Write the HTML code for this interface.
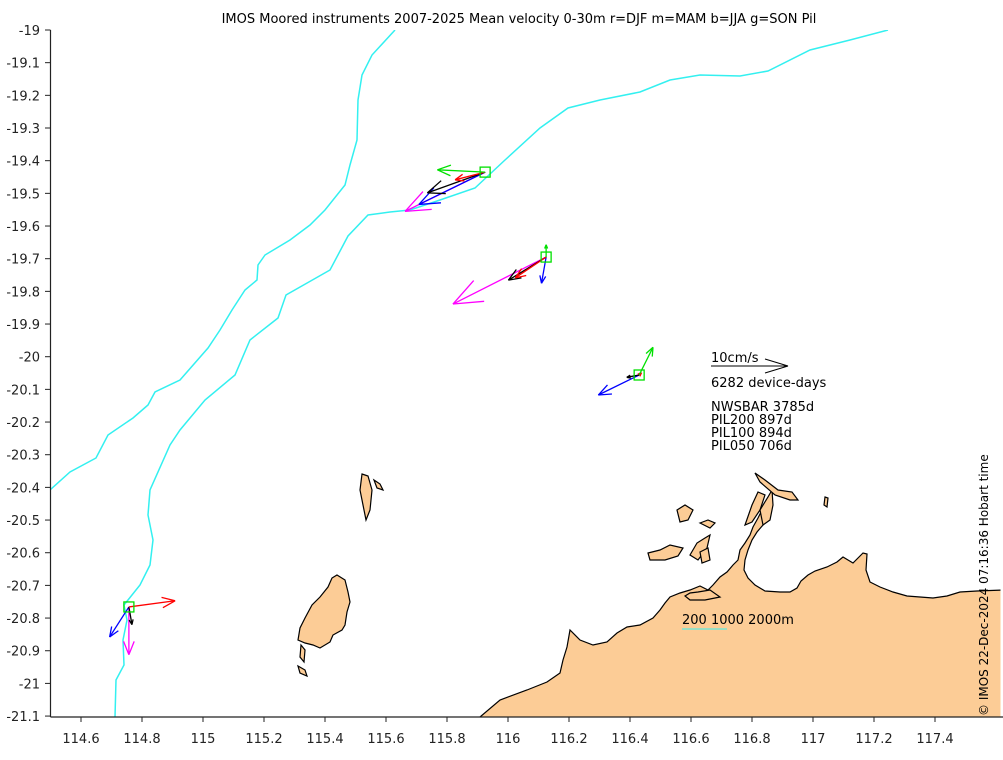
<!DOCTYPE html>
<html><head><meta charset="utf-8"><style>
body{margin:0;background:#fff;}
svg{display:block;font-family:"DejaVu Sans","Liberation Sans",sans-serif;}
</style></head><body>
<svg id="chart" width="1003" height="760" viewBox="0 0 1003 760">
<defs><clipPath id="pc"><rect x="50.5" y="30" width="950" height="687"/></clipPath></defs>
<text x="519" y="23" text-anchor="middle" font-size="13" fill="#000">IMOS Moored instruments 2007-2025 Mean velocity 0-30m r=DJF m=MAM b=JJA g=SON Pil</text>
<g clip-path="url(#pc)">
<g id="land" fill="#fccc96" stroke="#000" stroke-width="1.2"></g>
<polyline fill="none" stroke="#33f0f0" stroke-width="1.5" points="395,30 372,55 362,75 358,100 357,140 350,165 345,185 325,210 310,225 290,240 265,255 258,265 257,280 245,290 232,310 220,330 208,348 180,380 155,392 148,405 133,418 108,435 96,458 70,472 50,490"/>
<polyline fill="none" stroke="#33f0f0" stroke-width="1.5" points="115,717 116,680 124,665 123,640 127,620 124,605 140,585 150,565 153,540 148,515 150,490 170,445 180,430 205,400 235,375 250,340 278,318 286,295 330,270 348,236 368,215 390,212 410,210 440,200 475,188 505,160 540,128 568,108 600,100 640,92 670,80 700,75 740,76 768,71 810,50 850,40 888,30"/>
<g id="arrows"></g>
</g>
<line x1="50.5" y1="30" x2="50.5" y2="717" stroke="#222" stroke-width="1.2"/>
<line x1="50.5" y1="717" x2="1003" y2="717" stroke="#222" stroke-width="1.2"/>
<g id="ticks" font-size="13" fill="#222"></g>
<g font-size="13" fill="#000">
<line x1="711" y1="366" x2="788" y2="366" stroke="#000"/>
<line x1="788" y1="366" x2="765" y2="359" stroke="#000"/>
<line x1="788" y1="366" x2="765" y2="373" stroke="#000"/>
<text x="711" y="362">10cm/s</text>
<text x="711" y="387">6282 device-days</text>
<text x="711" y="411">NWSBAR 3785d</text>
<text x="711" y="424">PIL200 897d</text>
<text x="711" y="437">PIL100 894d</text>
<text x="711" y="450">PIL050 706d</text>
</g>
<g>
<text x="682" y="624" font-size="13" fill="#000">200 1000 2000m</text>
<line x1="682" y1="629" x2="727" y2="629" stroke="#33f0f0" stroke-width="1"/>
</g>
<text transform="translate(988,716) rotate(-90)" font-size="12" fill="#000">© IMOS 22-Dec-2024 07:16:36 Hobart time</text>
</svg>
<script>
const xTicks=[114.6,114.8,115,115.2,115.4,115.6,115.8,116,116.2,116.4,116.6,116.8,117,117.2,117.4];
const yTicks=[-19,-19.1,-19.2,-19.3,-19.4,-19.5,-19.6,-19.7,-19.8,-19.9,-20,-20.1,-20.2,-20.3,-20.4,-20.5,-20.6,-20.7,-20.8,-20.9,-21,-21.1];
const mooringLon=[115.925,116.125,116.43,114.757];
const mooringLat=[-19.435,-19.695,-20.056,-20.766];
const seasons=['son','djf','jja_black','jja','mam'];
const seasonColor=['#00e000','#ff0000','#000000','#0000ff','#ff00ff'];
const uSON=[-6.2,0,1.8,null];const vSON=[0.3,1.6,3.6,null];
const uDJF=[-3.9,-4.0,0.3,6.0];const vDJF=[-1.0,-2.7,0.3,0.8];
const uBLK=[-7.5,-4.9,-1.6,0.4];const vBLK=[-2.7,-3.0,-0.3,-2.3];
const uJJA=[-8.6,-0.6,-5.3,-2.5];const vJJA=[-4.2,-3.4,-2.6,-3.9];
const uMAM=[-10.4,-12.1,null,0];const vMAM=[-5.1,-6.1,null,-6.2];
const NS='http://www.w3.org/2000/svg';
const X=lon=>50.5+(lon-114.5)*305;
const Y=lat=>30+(-19-lat)*326.7;
const PXCM=7.7;
function mk(tag,attrs,parent){const e=document.createElementNS(NS,tag);for(const k in attrs)e.setAttribute(k,attrs[k]);parent.appendChild(e);return e;}
const tg=document.getElementById('ticks');
xTicks.forEach(t=>{const x=X(t);
 const l=mk('line',{x1:x,y1:717,x2:x,y2:722,stroke:'#222'},tg);
 
 
 const tx=mk('text',{x:x,y:743,'text-anchor':'middle'},tg);tx.textContent=String(t);
 
 });
yTicks.forEach(t=>{const y=Y(t);
 const l=mk('line',{x1:45,y1:y,x2:50.5,y2:y,stroke:'#222'},tg);
 
 
 const tx=mk('text',{x:40,y:y+5,'text-anchor':'end'},tg);tx.textContent=String(t);
 
 });
const land=document.getElementById('land');
const polys=[
 [[480,717],[500,700],[527,690],[547,682],[560,673],[563,660],[567,647],[570,630],[580,640],[593,645],[607,642],[617,633],[627,627],[640,625],[653,618],[660,610],[665,603],[670,597],[680,593],[690,590],[700,586],[708,590],[713,585],[720,577],[727,572],[733,565],[738,560],[740,550],[745,543],[750,535],[753,527],[758,518],[762,510],[767,502],[772,495],[771,505],[768,515],[763,525],[757,532],[752,540],[748,550],[745,560],[744,570],[748,578],[755,585],[765,591],[780,592],[790,592],[797,588],[801,581],[808,575],[815,571],[827,567],[837,562],[843,557],[848,560],[853,563],[860,556],[863,553],[867,554],[866,570],[870,582],[880,587],[893,592],[907,596],[920,597],[933,598],[947,596],[960,592],[977,591],[1003,590],[1003,720],[480,720]],
 [[337,575],[345,580],[348,592],[350,602],[347,612],[345,625],[342,630],[333,635],[330,642],[320,648],[313,645],[305,643],[298,640],[300,628],[305,618],[312,605],[320,597],[328,587],[332,578]],
 [[301,645],[305,650],[304,662],[300,657]],[[298,666],[305,670],[307,676],[300,673]],
 [[362,474],[368,476],[372,490],[370,510],[366,520],[363,505],[360,490]],[[374,480],[380,484],[383,490],[377,488]],
 [[648,553],[660,550],[670,545],[683,548],[678,556],[665,560],[650,560]],
 [[690,555],[697,543],[705,538],[710,535],[707,548],[698,560]],
 [[700,552],[708,548],[710,560],[702,563]],
 [[677,510],[685,505],[693,510],[688,520],[680,522]],
 [[700,523],[708,520],[715,523],[710,528]],
 [[745,525],[752,505],[758,492],[765,495],[760,510],[752,522]],
 [[760,510],[768,497],[772,490],[773,505],[770,520],[763,525]],
 [[755,473],[765,480],[778,490],[792,492],[798,500],[790,500],[775,495],[760,482]],
 [[825,497],[828,498],[827,507],[824,505]],
 [[685,596],[690,593],[698,592],[710,590],[720,597],[705,600],[690,600]]
];
polys.forEach(p=>{const e=mk('polygon',{points:p.map(q=>q.join(',')).join(' ')},land);
 
 });
const ag=document.getElementById('arrows');
const U=[uSON,uDJF,uBLK,uJJA,uMAM],V=[vSON,vDJF,vBLK,vJJA,vMAM];
const order=[4,3,2,1,0];
order.forEach(s=>{mooringLon.forEach((lon,i)=>{const u=U[s][i],v=V[s][i];if(u==null)return;
 const x0=X(lon),y0=Y(mooringLat[i]),x1=x0+u*PXCM,y1=y0-v*PXCM;
 const dx=x1-x0,dy=y1-y0,L=Math.hypot(dx,dy);if(L<0.5)return;
 const h=Math.max(4,L*0.3),a=Math.atan2(dy,dx),w=0.38;
 const g=mk('g',{stroke:seasonColor[s],'stroke-width':1.3,fill:'none'},ag);
 
 
 mk('line',{x1:x0,y1:y0,x2:x1,y2:y1},g);
 mk('line',{x1:x1,y1:y1,x2:x1-h*Math.cos(a-w),y2:y1-h*Math.sin(a-w)},g);
 mk('line',{x1:x1,y1:y1,x2:x1-h*Math.cos(a+w),y2:y1-h*Math.sin(a+w)},g);});});
mooringLon.forEach((lon,i)=>{const r=mk('rect',{x:X(lon)-5,y:Y(mooringLat[i])-5,width:10,height:10,fill:'none',stroke:'#00e000','stroke-width':1.3},ag);
 
 });
</script>
</body></html>
